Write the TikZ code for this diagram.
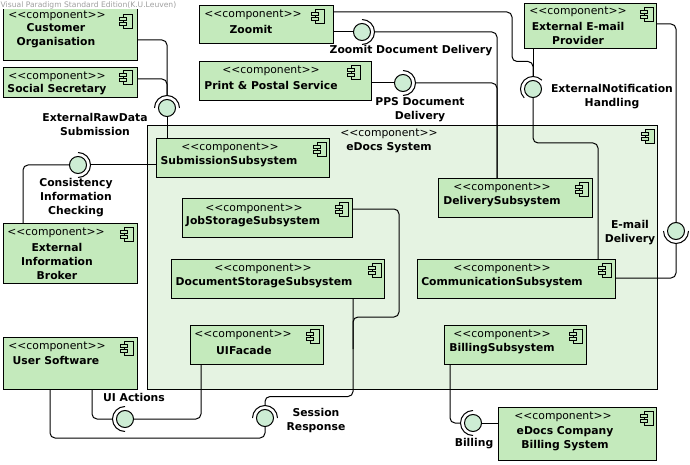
\documentclass[tikz,border=0pt]{standalone}
\usepackage{fontspec}
\setmainfont{DejaVu Sans}
\newfontfamily\vpfont{DejaVu Sans}
\usetikzlibrary{calc}
\definecolor{compfill}{RGB}{196,234,188}
\definecolor{sysfill}{RGB}{229,243,226}
\definecolor{ifill}{RGB}{205,237,212}
\definecolor{wmgray}{RGB}{160,160,160}
\tikzset{
  comp/.style={draw=black, fill=compfill, line width=1pt, inner sep=0pt, anchor=north west},
  sys/.style={draw=black, fill=sysfill, line width=1pt, inner sep=0pt, anchor=north west},
  st/.style={font=\vpfont\fontsize{10.8}{13}\selectfont, inner sep=0pt},
  nm/.style={font=\vpfont\fontsize{10.8}{14}\selectfont\bfseries, inner sep=0pt, align=center},
  conn/.style={line width=1pt, rounded corners=5pt},
  ball/.style={circle, draw=black, fill=ifill, line width=1pt, minimum size=17pt, inner sep=0pt},
  sock/.style={line width=1pt},
  cicon/.pic={
    \draw[line width=0.8pt, fill=compfill] (-9,0) rectangle (0,14);
    \draw[line width=0.8pt, fill=compfill] (-13,3) rectangle (-6,6);
    \draw[line width=0.8pt, fill=compfill] (-13,8) rectangle (-6,11);
  }
}
\newcommand\sockarc[3]{\draw[sock] ($(#1)+(#2:12.5)$) arc[start angle=#2, end angle=#3, radius=12.5];}
\newcommand\stereo{<<component>>}
\begin{document}
\begin{tikzpicture}[x=1pt, y=-1pt]
\useasboundingbox (0,0) rectangle (690,465);
\fill[white] (0,0) rectangle (690,465);

% container
\node[sys, minimum width=510pt, minimum height=264pt] (ed) at (147,125) {};
\pic at ($(ed.north east)+(-4,4)$) {cicon};
\node[st] (edst) at (389,134) {\stereo};
\node[nm] (ednm) at (389,148) {eDocs System};

% external components
\node[comp, minimum width=134pt, minimum height=55pt] (co) at (3,5) {};
\pic at ($(co.north east)+(-6,9)$) {cicon};
\node[st] (cost) at (57,16) {\stereo};
\node[nm] (conm) at (56,36) {Customer\\Organisation};

\node[comp, minimum width=134pt, minimum height=30pt] (ss) at (3,67) {};
\pic at ($(ss.north east)+(-6,3)$) {cicon};
\node[st] (ssst) at (57,77) {\stereo};
\node[nm] (ssnm) at (57,90) {Social Secretary};

\node[comp, minimum width=134pt, minimum height=38pt] (zm) at (199,5) {};
\pic at ($(zm.north east)+(-10,4)$) {cicon};
\node[st] (zmst) at (253,15) {\stereo};
\node[nm] (zmnm) at (251,29) {Zoomit};

\node[comp, minimum width=172pt, minimum height=39pt] (pp) at (199,61) {};
\pic at ($(pp.north east)+(-12,4)$) {cicon};
\node[st] (ppst) at (271,71) {\stereo};
\node[nm] (ppnm) at (271,85) {Print \& Postal Service};

\node[comp, minimum width=132pt, minimum height=45pt] (ep) at (524,3) {};
\pic at ($(ep.north east)+(-4,4)$) {cicon};
\node[st] (epst) at (578,12) {\stereo};
\node[nm] (epnm) at (578,33) {External E-mail\\Provider};

\node[comp, minimum width=134pt, minimum height=60pt] (ib) at (3,223) {};
\pic at ($(ib.north east)+(-5,4)$) {cicon};
\node[st] (ibst) at (56,233) {\stereo};
\node[nm] (ibnm) at (57,261) {External\\Information\\Broker};

\node[comp, minimum width=134pt, minimum height=52pt] (us) at (3,337) {};
\pic at ($(us.north east)+(-5,4)$) {cicon};
\node[st] (usst) at (57,347) {\stereo};
\node[nm] (usnm) at (56,360) {User Software};

\node[comp, minimum width=158pt, minimum height=53pt] (eb) at (498,407) {};
\pic at ($(eb.north east)+(-4,4)$) {cicon};
\node[st] (ebst) at (563,417) {\stereo};
\node[nm] (ebnm) at (565,439) {eDocs Company\\Billing System};

% inner components
\node[comp, minimum width=173pt, minimum height=39pt] (sb) at (156,138) {};
\pic at ($(sb.north east)+(-4,4)$) {cicon};
\node[st] (sbst) at (230,148) {\stereo};
\node[nm] (sbnm) at (229,162) {SubmissionSubsystem};

\node[comp, minimum width=170pt, minimum height=39pt] (js) at (182,198) {};
\pic at ($(js.north east)+(-5,4)$) {cicon};
\node[st] (jsst) at (254,209) {\stereo};
\node[nm] (jsnm) at (253,222) {JobStorageSubsystem};

\node[comp, minimum width=213pt, minimum height=39pt] (ds) at (171,259) {};
\pic at ($(ds.north east)+(-4,4)$) {cicon};
\node[st] (dsst) at (263,269) {\stereo};
\node[nm] (dsnm) at (264,283) {DocumentStorageSubsystem};

\node[comp, minimum width=133pt, minimum height=39pt] (ui) at (190,325) {};
\pic at ($(ui.north east)+(-5,4)$) {cicon};
\node[st] (uist) at (243,335) {\stereo};
\node[nm] (uinm) at (244,350) {UIFacade};

\node[comp, minimum width=154pt, minimum height=39pt] (dv) at (438,178) {};
\pic at ($(dv.north east)+(-5,4)$) {cicon};
\node[st] (dvst) at (502,188) {\stereo};
\node[nm] (dvnm) at (502,202) {DeliverySubsystem};

\node[comp, minimum width=198pt, minimum height=39pt] (cm) at (417,259) {};
\pic at ($(cm.north east)+(-5,4)$) {cicon};
\node[st] (cmst) at (502,269) {\stereo};
\node[nm] (cmnm) at (502,283) {CommunicationSubsystem};

\node[comp, minimum width=142pt, minimum height=39pt] (bl) at (444,325) {};
\pic at ($(bl.north east)+(-5,4)$) {cicon};
\node[st] (blst) at (502,335) {\stereo};
\node[nm] (blnm) at (502,349) {BillingSubsystem};

% interface balls (positions)
\coordinate (c1) at (167,108);
\coordinate (c2) at (78,165);
\coordinate (c3) at (362,32);
\coordinate (c4) at (403,83);
\coordinate (c5) at (533,89);
\coordinate (c6) at (676,231);
\coordinate (c7) at (125,419);
\coordinate (c8) at (265,418);
\coordinate (c9) at (473,423);
\coordinate (s1) at ($(c1)+(0,-12.5)$);
\coordinate (s2) at ($(c2)+(12.5,0)$);
\coordinate (s3) at ($(c3)+(12.5,0)$);
\coordinate (s4) at ($(c4)+(12.5,0)$);
\coordinate (s5) at ($(c5)+(0,-12.5)$);
\coordinate (s6) at ($(c6)+(0,12.5)$);
\coordinate (s7) at ($(c7)+(-12.5,0)$);
\coordinate (s8) at ($(c8)+(0,-12.5)$);
\coordinate (s9) at ($(c9)+(-12.5,0)$);

% connectors
\draw[conn] ($(co.north east)+(0,35)$) -| (s1);
\draw[conn] ($(ss.north east)+(0,12)$) -| (s1);
\draw[conn] (c1) -- (c1 |- sb.north);

\draw[conn] (s2) -- (s2 -| sb.west);
\draw[conn] (c2) -| ($(ib.north west)+(20,0)$);

\draw[conn] (c3 -| zm.east) -- (c3);
\draw[conn] (s3) -| ($(dv.north west)+(59,0)$);

\draw[conn] (c4 -| pp.east) -- (c4);
\draw[conn] (s4) -| ($(dv.north west)+(59,0)$);

\draw[conn] (s5 |- ep.south) -- (s5);
\draw[conn] ($(zm.north east)+(0,7)$) -| ($(s5)+(-21,-15)$) -| (s5);
\draw[conn] (c5) |- ($(cm.north west)+(181,-116)$) -- ($(cm.north west)+(181,0)$);

\draw[conn] ($(ep.north east)+(0,21)$) -| (c6);
\draw[conn] (s6) |- ($(cm.north east)+(0,19)$);

\draw[conn] ($(us.south west)+(89,0)$) |- (s7);
\draw[conn] ($(ui.south west)+(11,0)$) |- (c7);

\draw[conn] ($(ds.south west)+(182,0)$) |- ($(s8)+(0,-9)$) -- (s8);
\draw[conn] ($(js.north east)+(0,11)$) -| ($(js.north east)+(46,119)$) -| ($(ds.south west)+(182,50)$);
\draw[conn] (c8) |- ($(us.south west)+(47,48)$) -- ($(us.south west)+(47,0)$);

\draw[conn] ($(bl.south west)+(6,0)$) |- (s9);
\draw[conn] (c9) -- (c9 -| eb.west);

% balls and sockets
\foreach \i in {1,...,9} { \node[ball] (b\i) at (c\i) {}; }
\sockarc{c1}{180}{360}
\sockarc{c2}{-90}{90}
\sockarc{c3}{-90}{90}
\sockarc{c4}{-90}{90}
\sockarc{c5}{135}{315}
\sockarc{c6}{0}{180}
\sockarc{c7}{90}{270}
\sockarc{c8}{180}{360}
\sockarc{c9}{90}{270}

% interface labels
\node[nm] (l1) at (95,124) {ExternalRawData\\Submission};
\node[nm] (l2) at (76,198) {Consistency\\Information\\Checking};
\node[nm] (l3) at (411,51) {Zoomit Document Delivery};
\node[nm] (l4) at (420,110) {PPS Document\\Delivery};
\node[nm] (l5) at (612,97) {ExternalNotification\\Handling};
\node[nm] (l6) at (630,233) {E-mail\\Delivery};
\node[nm] (l7) at (134,397) {UI Actions};
\node[nm] (l8) at (316,421) {Session\\Response};
\node[nm] (l9) at (474,444) {Billing};

% watermark
\node[anchor=west, fill=white, inner sep=0.5pt, text=wmgray, font=\vpfont\fontsize{7.6}{8}\selectfont] (wm) at (0,5) {Visual Paradigm Standard Edition(K.U.Leuven)};
\end{tikzpicture}
\end{document}
